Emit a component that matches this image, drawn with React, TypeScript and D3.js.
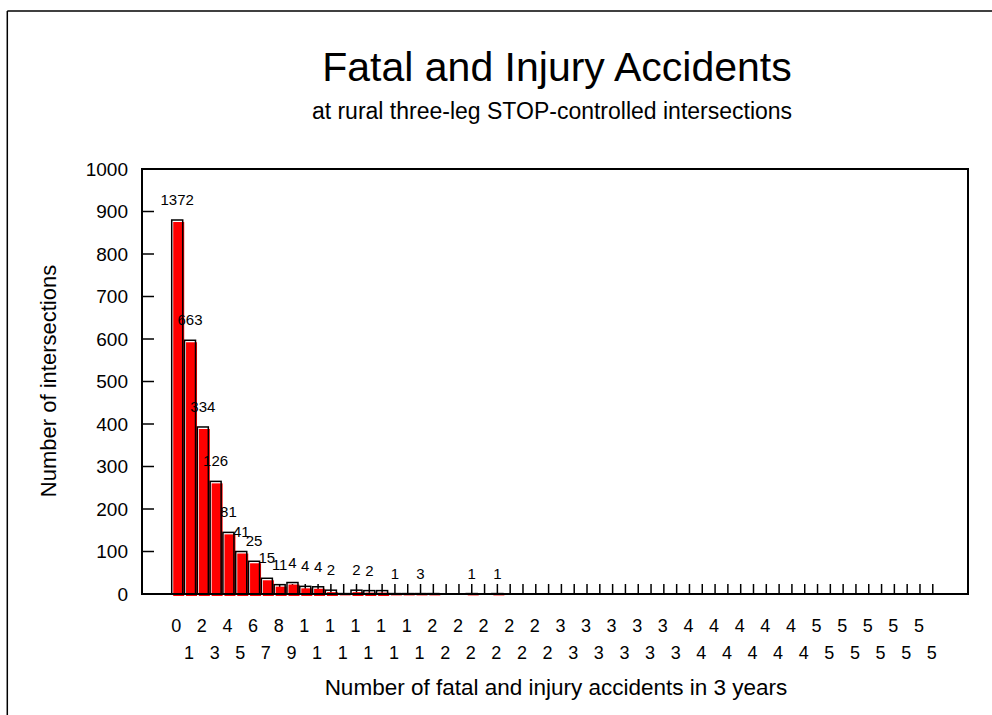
import React from "react";
import * as d3 from "d3";

const categories: number[] = [
  0, 1, 2, 3, 4, 5, 6, 7, 8, 9, 10, 11, 12, 13, 14, 15, 16, 17, 18, 19,
  20, 21, 22, 23, 24, 25, 26, 27, 28, 29, 30, 31, 32, 33, 34, 35, 36, 37, 38, 39,
  40, 41, 42, 43, 44, 45, 46, 47, 48, 49, 50, 51, 52, 53, 54, 55, 56, 57, 58, 59,
];
// visible (truncated) tick labels
const tickLabels: string[] = categories.map((c) => String(c).charAt(0));

// bar heights (number of intersections), null = no bar
const barValues: (number | null)[] = [
  880, 597, 393, 265, 145, 100, 77, 37, 22, 27, 18, 17, 9, 1, 9, 8, 8, 1, 1, 1,
  1, null, null, 1, null, 1, null, null, null, null, null, null, null, null, null, null, null, null, 0, null,
  null, null, null, null, null, null, null, null, null, null, null, null, null, null, null, null, null, null, null, 0,
];
// data labels shown above bars
const dataLabels: (string | null)[] = [
  "1372", "663", "334", "126", "81", "41", "25", "15", "11", "4", "4", "4", "2", null, "2", "2", null, "1", null, "3",
  null, null, null, "1", null, "1", null, null, null, null, null, null, null, null, null, null, null, null, null, null,
  null, null, null, null, null, null, null, null, null, null, null, null, null, null, null, null, null, null, null, null,
];
const yTicks: number[] = [0, 100, 200, 300, 400, 500, 600, 700, 800, 900, 1000];

const title = "Fatal and Injury Accidents";
const subtitle = "at rural three-leg STOP-controlled intersections";
const xTitle = "Number of fatal and injury accidents in 3 years";
const yTitle = "Number of intersections";

const W = 992;
const H = 715;
const plot = { left: 142, right: 968, top: 169, bottom: 594 };
const FONT = "'Liberation Sans', Arial, sans-serif";

export default function App() {
  const x = d3
    .scalePoint<number>()
    .domain(categories)
    .range([plot.left, plot.right])
    .padding(2.75);
  const y = d3.scaleLinear().domain([0, 1000]).range([plot.bottom, plot.top]);
  const bw = 11;

  return (
    <svg
      width={W}
      height={H}
      style={{ position: "absolute", left: 0, top: 0, background: "#fff" }}
      fontFamily={FONT}
    >
      <rect x={0} y={0} width={W} height={H} fill="#fff" />
      {/* outer frame lines */}
      <line x1={7.3} x2={W} y1={11} y2={11} stroke="#000" strokeWidth={1.5} />
      <line x1={7.3} x2={7.3} y1={11} y2={H} stroke="#000" strokeWidth={1.5} />

      <text x={557} y={81} textAnchor="middle" fontSize={41}>
        {title}
      </text>
      <text x={552} y={119} textAnchor="middle" fontSize={23}>
        {subtitle}
      </text>

      {/* x ticks (inside) */}
      {categories.map((c) => (
        <line
          key={"xt" + c}
          x1={x(c)!}
          x2={x(c)!}
          y1={plot.bottom}
          y2={plot.bottom - 10}
          stroke="#000"
          strokeWidth={1.5}
        />
      ))}

      {/* bars */}
      {categories.map((c, i) => {
        const v = barValues[i];
        if (v === null) return null;
        const cx = x(c)!;
        const top = y(v);
        const h = y(0) - top;
        return (
          <g key={"b" + c}>
            {h > 0 && (
              <rect x={cx - bw / 2 + 1.5} y={top + 2} width={bw} height={h} fill="#ff0000" />
            )}
            <rect
              x={cx - bw / 2}
              y={top}
              width={bw}
              height={h}
              fill="none"
              stroke="#000"
              strokeWidth={1.5}
            />
          </g>
        );
      })}

      {/* y ticks */}
      {yTicks.map((t) => (
        <g key={"yt" + t}>
          <line
            x1={plot.left}
            x2={plot.left + 12}
            y1={y(t)}
            y2={y(t)}
            stroke="#000"
            strokeWidth={1.5}
          />
          <text x={128} y={y(t)} dy="0.35em" textAnchor="end" fontSize={19}>
            {t}
          </text>
        </g>
      ))}

      {/* plot frame */}
      <rect
        x={plot.left}
        y={plot.top}
        width={plot.right - plot.left}
        height={plot.bottom - plot.top}
        fill="none"
        stroke="#000"
        strokeWidth={2}
      />

      {/* data labels */}
      {categories.map((c, i) => {
        const lab = dataLabels[i];
        const v = barValues[i];
        if (lab === null || v === null) return null;
        return (
          <text key={"dl" + c} x={x(c)!} y={y(v) - 15} textAnchor="middle" fontSize={15}>
            {lab}
          </text>
        );
      })}

      {/* x tick labels */}
      {categories.map((c, i) => (
        <text
          key={"xl" + c}
          x={x(c)! - 1}
          y={i % 2 === 0 ? 632 : 659}
          textAnchor="middle"
          fontSize={18}
        >
          {tickLabels[i]}
        </text>
      ))}

      <text x={556} y={695} textAnchor="middle" fontSize={22.5}>
        {xTitle}
      </text>
      <text
        transform={`translate(56, 381) rotate(-90)`}
        textAnchor="middle"
        fontSize={22}
      >
        {yTitle}
      </text>
    </svg>
  );
}
